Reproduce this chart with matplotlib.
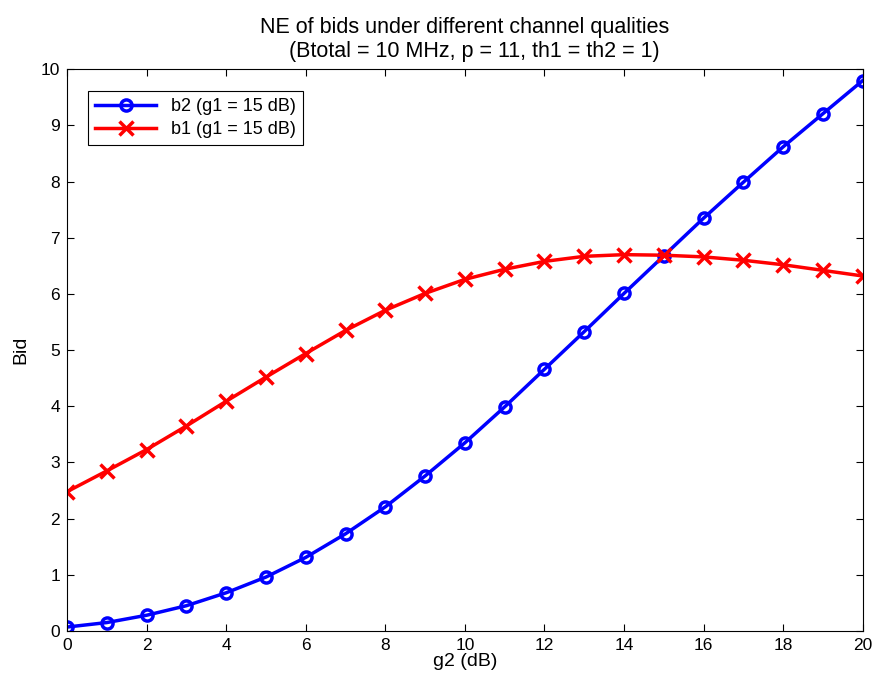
import numpy as np
from matplotlib import pyplot as plt

plt.rcParams['font.family'] = ['Liberation Sans', 'DejaVu Sans']

# =============================================================================
# DATA
# =============================================================================
g2 = np.arange(0, 21)
b2 = [0.07, 0.15, 0.28, 0.45, 0.68, 0.96, 1.31, 1.73, 2.21, 2.76, 3.35,
      3.99, 4.66, 5.33, 6.01, 6.68, 7.35, 7.99, 8.62, 9.21, 9.80]
b1 = [2.48, 2.85, 3.23, 3.65, 4.09, 4.52, 4.94, 5.35, 5.71, 6.01, 6.26,
      6.44, 6.58, 6.67, 6.70, 6.69, 6.66, 6.60, 6.52, 6.42, 6.32]
xticks = np.arange(0, 21, 2)
yticks = np.arange(0, 11, 1)

# =============================================================================
# Plot
# =============================================================================
fig = plt.figure(figsize=(8.75, 6.86), dpi=100)
ax = fig.add_axes([0.0766, 0.0802, 0.9094, 0.8188])

ax.plot(g2, b2, '-o', color='b', lw=2.5, ms=8, mfc='none', mew=2.5,
        label='b2 (g1 = 15 dB)')
ax.plot(g2, b1, '-x', color='r', lw=2.5, ms=10, mew=2.5,
        label='b1 (g1 = 15 dB)')

ax.set_xlim(0, 20)
ax.set_ylim(0, 10)
ax.set_xticks(xticks)
ax.set_yticks(yticks)
ax.tick_params(direction='in', top=True, right=True, labelsize=12.5,
               length=5, pad=5)
for s in ax.spines.values():
    s.set_linewidth(0.8)

ax.set_xlabel('g2 (dB)', fontsize=14, labelpad=0)
ax.set_ylabel('Bid', fontsize=14, labelpad=8)
ax.set_title('NE of bids under different channel qualities\n'
             '   (Btotal = 10 MHz, p = 11, th1 = th2 = 1)', fontsize=15.5,
             pad=9)

leg = ax.legend(loc='upper left', bbox_to_anchor=(0.026, 0.961), fontsize=13,
                fancybox=False, edgecolor='k', framealpha=1,
                handlelength=3.4, borderpad=0.4, labelspacing=0.3,
                borderaxespad=0)
leg.get_frame().set_linewidth(0.8)

fig.savefig('out.png', dpi=100)
